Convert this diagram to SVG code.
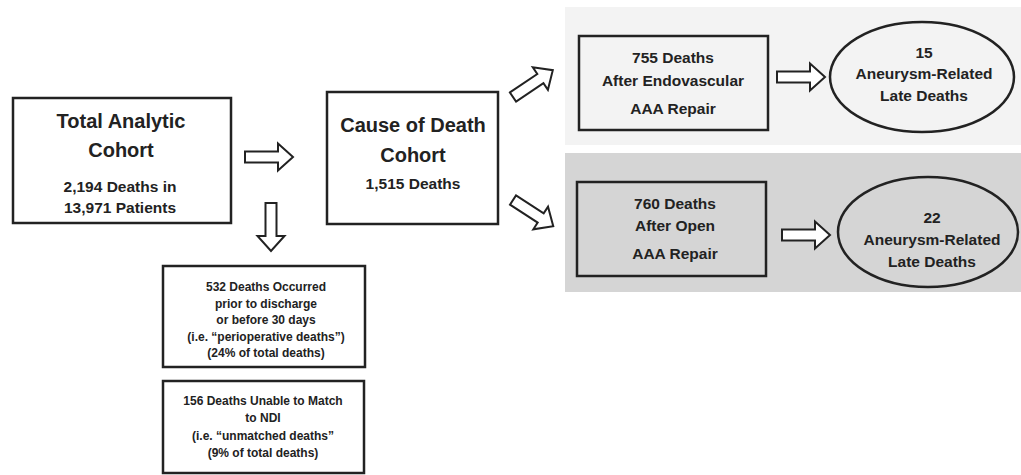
<svg xmlns="http://www.w3.org/2000/svg" width="1021" height="475" viewBox="0 0 1021 475">
<defs>
<style>
text{font-family:"Liberation Sans",Arial,sans-serif;font-weight:bold;fill:#222;text-anchor:middle}
.t{font-size:20px}
.m{font-size:15.5px}
.s{font-size:12px}
.box{stroke:#222;stroke-width:2.5}
.arr{fill:#fff;stroke:#222;stroke-width:2;stroke-linejoin:miter}
</style>
<path id="arrow" d="M0,-5.5 L33,-5.5 L33,-13.5 L48,0 L33,13.5 L33,5.5 L0,5.5 Z"/>
</defs>
<rect width="1021" height="475" fill="#fff"/>
<rect id="panel-top" x="565" y="7" width="456" height="138" fill="#f3f3f3"/>
<rect id="panel-bottom" x="565" y="153" width="456" height="139" fill="#d5d5d5"/>

<g id="total-cohort">
<rect class="box" x="13" y="98" width="218" height="125" fill="#fff"/>
<text class="t" x="121" y="128">Total Analytic</text>
<text class="t" x="121" y="157">Cohort</text>
<text class="m" x="120" y="191.5">2,194 Deaths in</text>
<text class="m" x="120" y="212.5">13,971 Patients</text>
</g>

<g id="cause-cohort">
<rect class="box" x="327" y="92" width="171" height="132" fill="#fff"/>
<text class="t" x="413" y="132">Cause of Death</text>
<text class="t" x="413" y="162">Cohort</text>
<text class="m" x="413" y="188.5">1,515 Deaths</text>
</g>

<g id="endo-box">
<rect class="box" x="579" y="36" width="189" height="94" fill="#f3f3f3"/>
<text class="m" x="673" y="62.5">755 Deaths</text>
<text class="m" x="673" y="85.5">After Endovascular</text>
<text class="m" x="673" y="113.5">AAA Repair</text>
</g>

<g id="endo-late">
<ellipse class="box" cx="922" cy="77" rx="92" ry="55" fill="#f3f3f3"/>
<text class="m" x="924" y="57.5">15</text>
<text class="m" x="924" y="78.5">Aneurysm-Related</text>
<text class="m" x="924" y="100.5">Late Deaths</text>
</g>

<g id="open-box">
<rect class="box" x="577" y="182" width="189" height="94" fill="#d5d5d5"/>
<text class="m" x="675" y="208.5">760 Deaths</text>
<text class="m" x="675" y="230.5">After Open</text>
<text class="m" x="675" y="258.5">AAA Repair</text>
</g>

<g id="open-late">
<ellipse class="box" cx="928" cy="232" rx="90" ry="55" fill="#d5d5d5"/>
<text class="m" x="932" y="222.5">22</text>
<text class="m" x="932" y="244.5">Aneurysm-Related</text>
<text class="m" x="932" y="266.5">Late Deaths</text>
</g>

<g id="perioperative">
<rect class="box" x="163" y="266" width="202" height="101" fill="#fff" stroke-width="2"/>
<text class="s" x="266" y="291">532 Deaths Occurred</text>
<text class="s" x="266" y="307.5">prior to discharge</text>
<text class="s" x="266" y="324">or before 30 days</text>
<text class="s" x="266" y="341">(i.e. “perioperative deaths”)</text>
<text class="s" x="266" y="357">(24% of total deaths)</text>
</g>

<g id="unmatched">
<rect class="box" x="163" y="381" width="201" height="92" fill="#fff" stroke-width="2"/>
<text class="s" x="263" y="405">156 Deaths Unable to Match</text>
<text class="s" x="263" y="422">to NDI</text>
<text class="s" x="263" y="440">(i.e. “unmatched deaths”</text>
<text class="s" x="263" y="457">(9% of total deaths)</text>
</g>

<g id="connectors">
<use href="#arrow" class="arr" transform="translate(245,157)"/>
<use href="#arrow" class="arr" transform="translate(271,203) rotate(90)"/>
<use href="#arrow" class="arr" transform="translate(513,97) rotate(-34)"/>
<use href="#arrow" class="arr" transform="translate(513,200) rotate(33)"/>
<use href="#arrow" class="arr" transform="translate(777,77)"/>
<use href="#arrow" class="arr" transform="translate(782,235)"/>
</g>
</svg>
